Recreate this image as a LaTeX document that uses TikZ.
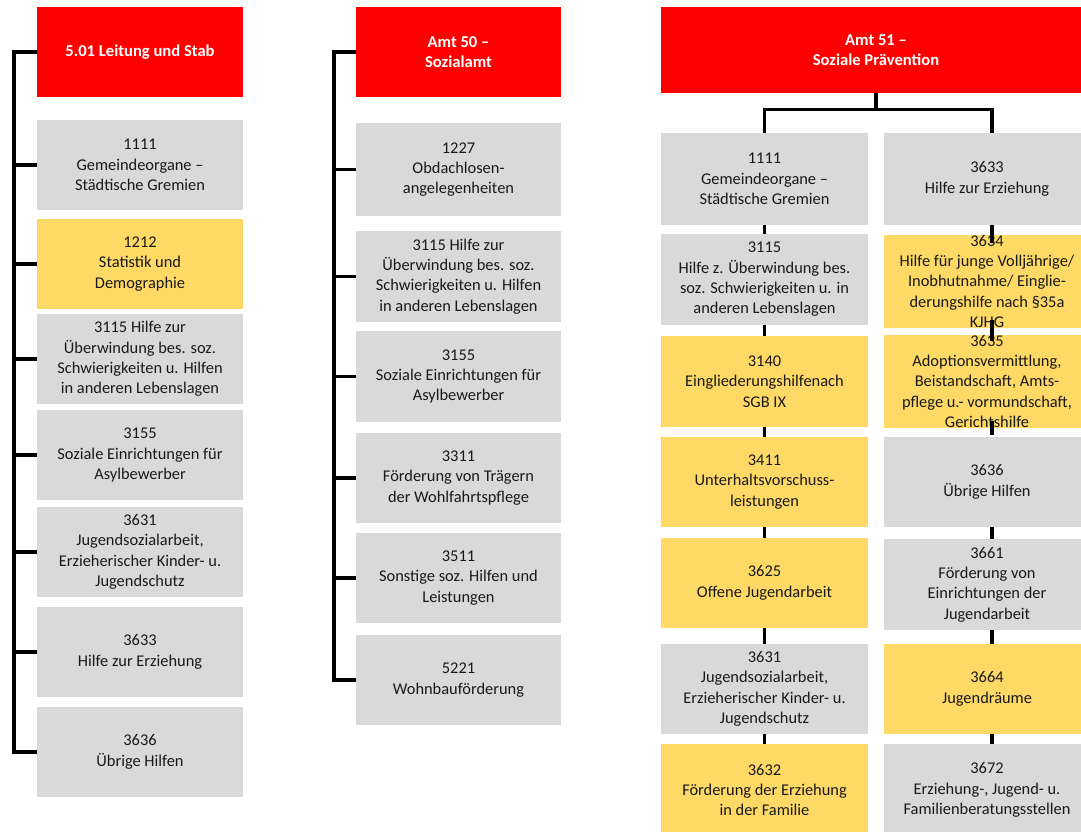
\documentclass[tikz,border=0pt]{standalone}
\usepackage{fontspec}
\setmainfont{Carlito}
\usetikzlibrary{calc}
\definecolor{hdred}{RGB}{255,0,0}
\definecolor{boxgray}{RGB}{217,217,217}
\definecolor{boxgold}{RGB}{255,217,102}
\definecolor{txt}{RGB}{25,25,25}
\tikzset{
  base/.style={inner sep=0pt, align=center, text=txt,
    font=\fontsize{16.4}{20.3}\selectfont},
  head/.style={base, fill=hdred, text=white,
    font=\fontsize{16.6}{20.6}\selectfont\bfseries},
  grey/.style={base, fill=boxgray},
  gold/.style={base, fill=boxgold},
  link/.style={draw=black, line width=3.2pt},
}
\begin{document}
\begin{tikzpicture}[x=1pt,y=-1pt]
\useasboundingbox (0,0) rectangle (1081,832);
% ---------------- left column: 5.01 ----------------
\node[head, minimum width=206, minimum height=90] (L0) at (140,52) {5.01 Leitung und Stab};
\node[grey, minimum width=206, minimum height=90] (L1) at (140,165) {1111\\Gemeindeorgane –\\Städtische Gremien};
\node[gold, minimum width=206, minimum height=90] (L2) at (140,264) {1212\\Statistik und\\Demographie};
\node[grey, minimum width=206, minimum height=90] (L3) at (140,359) {3115 Hilfe zur\\Überwindung bes. soz.\\Schwierigkeiten u. Hilfen\\in anderen Lebenslagen};
\node[grey, minimum width=206, minimum height=90] (L4) at (140,455) {3155\\Soziale Einrichtungen für\\Asylbewerber};
\node[grey, minimum width=206, minimum height=90] (L5) at (140,552) {3631\\Jugendsozialarbeit,\\Erzieherischer Kinder- u.\\Jugendschutz};
\node[grey, minimum width=206, minimum height=90] (L6) at (140,652) {3633\\Hilfe zur Erziehung};
\node[grey, minimum width=206, minimum height=90] (L7) at (140,752) {3636\\Übrige Hilfen};
\coordinate (LT) at (14,0);
\draw[link] (L0.west) -- (L0.west -| LT) -- (L7.west -| LT) -- (L7.west);
\foreach \n in {L1,L2,L3,L4,L5,L6} \draw[link] (\n.west -| LT) -- (\n.west);
% ---------------- middle column: Amt 50 ----------------
\node[head, minimum width=205, minimum height=90] (M0) at (458.5,52) {Amt 50 –\\Sozialamt};
\node[grey, minimum width=205, minimum height=93] (M1) at (458.5,169.5) {1227\\Obdachlosen-\\angelegenheiten};
\node[grey, minimum width=205, minimum height=91] (M2) at (458.5,276.5) {3115 Hilfe zur\\Überwindung bes. soz.\\Schwierigkeiten u. Hilfen\\in anderen Lebenslagen};
\node[grey, minimum width=205, minimum height=91] (M3) at (458.5,376.5) {3155\\Soziale Einrichtungen für\\Asylbewerber};
\node[grey, minimum width=205, minimum height=90] (M4) at (458.5,478) {3311\\Förderung von Trägern\\der Wohlfahrtspflege};
\node[grey, minimum width=205, minimum height=90] (M5) at (458.5,578) {3511\\Sonstige soz. Hilfen und\\Leistungen};
\node[grey, minimum width=205, minimum height=90] (M6) at (458.5,680) {5221\\Wohnbauförderung};
\coordinate (MT) at (334,0);
\draw[link] (M0.west) -- (M0.west -| MT) -- (M6.west -| MT) -- (M6.west);
\foreach \n in {M1,M2,M3,M4,M5} \draw[link] (\n.west -| MT) -- (\n.west);
% ---------------- right block: Amt 51 ----------------
\node[head, minimum width=430, minimum height=86] (R0) at (876,50) {Amt 51 –\\Soziale Prävention};
% left sub-column
\node[grey, minimum width=207, minimum height=92] (A1) at (764.5,179) {1111\\Gemeindeorgane –\\Städtische Gremien};
\node[grey, minimum width=207, minimum height=91] (A2) at (764.5,279.5) {3115\\Hilfe z. Überwindung bes.\\soz. Schwierigkeiten u. in\\anderen Lebenslagen};
\node[gold, minimum width=207, minimum height=91] (A3) at (764.5,381.5) {3140\\Eingliederungshilfenach\\SGB IX};
\node[gold, minimum width=207, minimum height=90] (A4) at (764.5,482) {3411\\Unterhaltsvorschuss-\\leistungen};
\node[gold, minimum width=207, minimum height=90] (A5) at (764.5,583) {3625\\Offene Jugendarbeit};
\node[grey, minimum width=207, minimum height=90] (A6) at (764.5,689) {3631\\Jugendsozialarbeit,\\Erzieherischer Kinder- u.\\Jugendschutz};
\node[gold, minimum width=207, minimum height=92] (A7) at (764.5,790) {3632\\Förderung der Erziehung\\in der Familie};
% right sub-column
\node[grey, minimum width=206, minimum height=92] (B1) at (987,179) {3633\\Hilfe zur Erziehung};
\node[gold, minimum width=206, minimum height=89] (B2) at (987,281.5) {3634\\Hilfe für junge Volljährige/\\Inobhutnahme/ Einglie-\\derungshilfe nach §35a\\KJHG};
\node[gold, minimum width=206, minimum height=91] (B3) at (987,381.5) {3635\\Adoptionsvermittlung,\\Beistandschaft, Amts-\\pflege u.- vormundschaft,\\Gerichtshilfe};
\node[grey, minimum width=206, minimum height=90] (B4) at (987,482) {3636\\Übrige Hilfen};
\node[grey, minimum width=206, minimum height=91] (B5) at (987,584.5) {3661\\Förderung von\\Einrichtungen der\\Jugendarbeit};
\node[gold, minimum width=206, minimum height=90] (B6) at (987,689) {3664\\Jugendräume};
\node[grey, minimum width=206, minimum height=92] (B7) at (987,790) {3672\\Erziehung-, Jugend- u.\\Familienberatungsstellen};
% tree below Amt 51
\coordinate (BX) at (992,0);
\coordinate (J) at ($(R0.south)+(0,16)$);
\draw[link] (R0.south) -- (J);
\draw[link] (A1.north) |- (J) -| (B1.north -| BX);
% chains
\foreach \a/\b in {A1/A2,A2/A3,A3/A4,A4/A5,A5/A6,A6/A7}
  \draw[link] (\a.south) -- (\b.north);
\draw[link] (B1.south -| BX) -- ($(B2.north -| BX)+(0,8)$);
\draw[link] ($(B2.south -| BX)+(0,-8)$) -- ($(B3.north -| BX)+(0,6)$);
\draw[link] ($(B3.south -| BX)+(0,-7)$) -- ($(B4.north -| BX)+(0,-2)$);
\foreach \a/\b in {B4/B5,B5/B6,B6/B7}
  \draw[link] (\a.south -| BX) -- (\b.north -| BX);
\end{tikzpicture}
\end{document}
